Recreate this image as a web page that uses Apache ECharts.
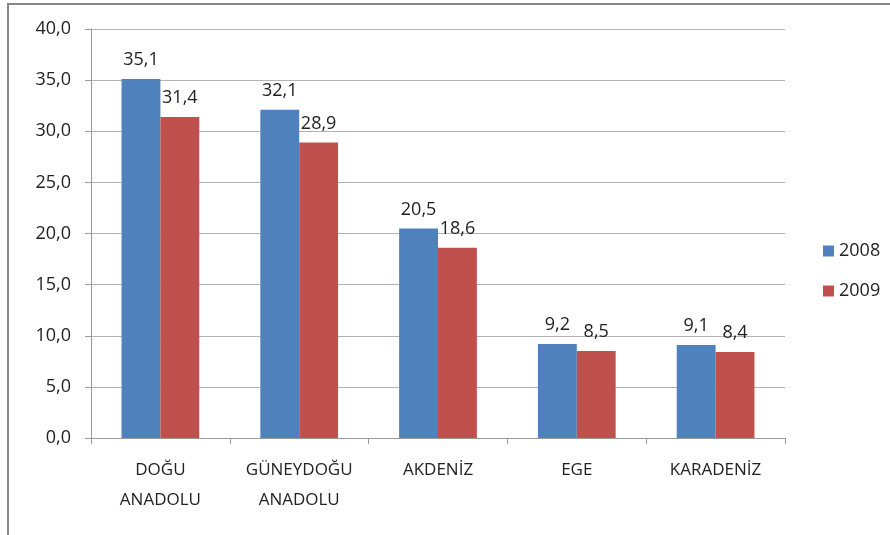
<!DOCTYPE html>
<html>
<head>
<meta charset="utf-8">
<script src="https://cdn.jsdelivr.net/npm/echarts@6/dist/echarts.min.js"></script>
<style>
html, body { margin: 0; padding: 0; background: #fff; }
#main { width: 890px; height: 535px; }
</style>
</head>
<body>
<div id="main"></div>
<script>
var regions = ['DOĞU\nANADOLU', 'GÜNEYDOĞU\nANADOLU', 'AKDENİZ', 'EGE', 'KARADENİZ'];
var values2008 = [35.1, 32.1, 20.5, 9.2, 9.1];
var values2009 = [31.4, 28.9, 18.6, 8.5, 8.4];
var yTicks = [0, 5, 10, 15, 20, 25, 30, 35, 40];

var font = 'Open Sans';
function comma(v) { return v.toFixed(1).replace('.', ','); }

var myChart = echarts.init(document.getElementById('main'));
var option = {
    animation: false,
    backgroundColor: '#fff',
    textStyle: { fontFamily: font },
    graphic: [{
        type: 'rect',
        shape: { x: 8, y: 4, width: 900, height: 560 },
        style: { fill: 'none', stroke: '#868686', lineWidth: 2 },
        silent: true
    }],
    legend: {
        orient: 'vertical',
        left: 818,
        top: 237,
        itemWidth: 11,
        itemHeight: 11,
        itemGap: 22,
        icon: 'rect',
        textStyle: { fontSize: 18, color: '#222', fontFamily: font },
        data: ['2008', '2009']
    },
    grid: { left: 91, right: 105, top: 29, bottom: 97, containLabel: false },
    xAxis: {
        type: 'category',
        data: regions,
        axisLine: { lineStyle: { color: '#999' } },
        axisTick: { show: true, length: 6, lineStyle: { color: '#999' } },
        axisLabel: { interval: 0, color: '#222', fontSize: 17, lineHeight: 30, margin: 17, fontFamily: font }
    },
    yAxis: {
        type: 'value',
        min: yTicks[0],
        max: yTicks[yTicks.length - 1],
        interval: 5,
        axisLine: { show: true, lineStyle: { color: '#999' } },
        axisTick: { show: true, length: 6, lineStyle: { color: '#999' } },
        splitLine: { lineStyle: { color: '#b3b3b3' } },
        axisLabel: { color: '#222', fontSize: 18, margin: 20, fontFamily: font, formatter: comma }
    },
    series: [{
        name: '2008',
        type: 'bar',
        data: values2008,
        barGap: '0%',
        barCategoryGap: '44%',
        itemStyle: { color: '#4F81BD' },
        label: { show: true, position: 'top', distance: 10, color: '#222', fontSize: 18, fontFamily: font, formatter: function (p) { return comma(p.value); } }
    }, {
        name: '2009',
        type: 'bar',
        data: values2009,
        itemStyle: { color: '#C0504D' },
        label: { show: true, position: 'top', distance: 10, color: '#222', fontSize: 18, fontFamily: font, formatter: function (p) { return comma(p.value); } }
    }]
};
myChart.setOption(option);
</script>
</body>
</html>
